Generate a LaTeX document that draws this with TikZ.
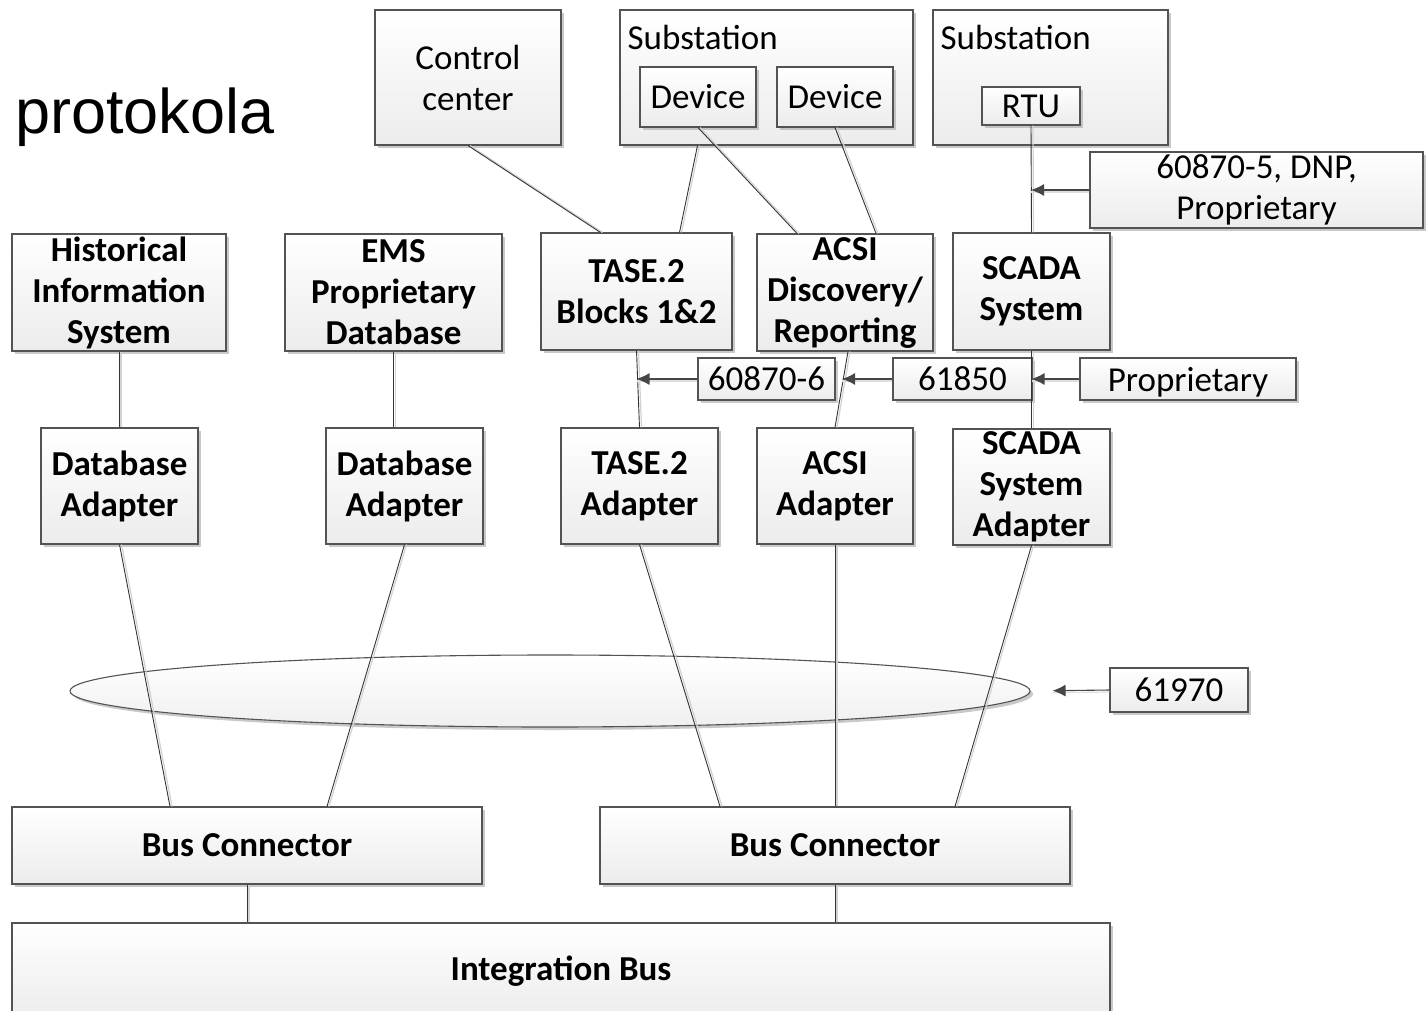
\documentclass[tikz,border=0pt]{standalone}
\usepackage{fontspec}
\setmainfont{Carlito}
\newfontfamily\headfont{Liberation Sans}
\usepackage{tikz}
\usetikzlibrary{arrows.meta,shapes.geometric,shadows}

\begin{document}
\begin{tikzpicture}[
  x=1pt, y=-1pt,
  box/.style={draw=gray!65!black, line width=1.1pt, top color=white, bottom color=gray!15,
    drop shadow={shadow xshift=3pt, shadow yshift=-3pt, fill=gray!60, opacity=0.7},
    inner sep=0pt, align=center, font=\fontsize{35}{41}\selectfont},
  bbox/.style={box, font=\fontsize{35}{41}\selectfont\bfseries},
  link/.style={draw=gray!40!black, line width=0.9pt,
    preaction={draw=gray!35, line width=1.2pt, transform canvas={xshift=2pt}}},
  arr/.style={draw=gray!55!black, line width=1.1pt, -{Latex[length=13pt, width=12pt]},
    preaction={draw=gray!25, line width=1.2pt, transform canvas={yshift=-2pt}, -{}}}
]
\useasboundingbox (0,0) rectangle (1427,1010);

% title
\node[anchor=base west, inner sep=0pt, font=\headfont\fontsize{63}{70}\selectfont] (title) at (15,133) {protokola};

% top row
\node[box, minimum width=186, minimum height=135] (cc) at (468,77.5) {Control\\center};
\node[box, minimum width=293, minimum height=135] (sub1) at (766.5,77.5) {};
\node[anchor=north west, inner sep=0pt, font=\fontsize{35}{41}\selectfont] (sub1lab) at ([xshift=8pt, yshift=-16pt]sub1.north west) {Substation};
\node[box, minimum width=116, minimum height=60] (dev1) at (698,97) {Device};
\node[box, minimum width=116, minimum height=60] (dev2) at (835,97) {Device};
\node[box, minimum width=235, minimum height=135] (sub2) at (1050.5,77.5) {};
\node[anchor=north west, inner sep=0pt, font=\fontsize{35}{41}\selectfont] (sub2lab) at ([xshift=8pt, yshift=-16pt]sub2.north west) {Substation};
\node[box, minimum width=98, minimum height=38] (rtu) at (1031,106) {RTU};
\node[box, minimum width=333, minimum height=76] (lab5) at (1256.5,190) {60870-5, DNP,\\Proprietary};

% systems
\node[bbox, minimum width=214, minimum height=117] (his) at (119,292.5) {Historical\\Information\\System};
\node[bbox, minimum width=217, minimum height=117] (ems) at (393.5,292.5) {EMS\\Proprietary\\Database};
\node[bbox, minimum width=191, minimum height=117] (tase) at (636.5,291.5) {TASE.2\\Blocks 1\&2};
\node[bbox, minimum width=176, minimum height=117] (acsi) at (845,292.5) {ACSI\\Discovery/\\Reporting};
\node[bbox, minimum width=157, minimum height=117] (scada) at (1031.5,291.5) {SCADA\\System};

% protocol labels
\node[box, minimum width=137, minimum height=42] (lab6) at (766.5,379) {60870-6};
\node[box, minimum width=139, minimum height=42] (lab61850) at (962.5,379) {61850};
\node[box, minimum width=216, minimum height=42, text depth=0pt] (labprop) at (1188,379) {Proprietary};

% adapters
\node[bbox, minimum width=157, minimum height=116] (dba1) at (119.5,486) {Database\\Adapter};
\node[bbox, minimum width=157, minimum height=116] (dba2) at (404.5,486) {Database\\Adapter};
\node[bbox, minimum width=157, minimum height=116] (tasea) at (639.5,486) {TASE.2\\Adapter};
\node[bbox, minimum width=156, minimum height=116] (acsia) at (835,486) {ACSI\\Adapter};
\node[bbox, minimum width=157, minimum height=116] (scadaa) at (1031.5,487) {SCADA\\System\\Adapter};

% common model
\node[ellipse, draw=gray!65!black, line width=1.1pt, top color=white, bottom color=gray!12,
  drop shadow={shadow xshift=3pt, shadow yshift=-3pt, fill=gray!60, opacity=0.7},
  minimum width=960, minimum height=72] (cim) at (550,691) {};
\node[box, minimum width=138, minimum height=44] (lab61970) at (1179,690) {61970};

% bus
\node[bbox, minimum width=470, minimum height=77] (bc1) at (247,845.5) {Bus Connector};
\node[bbox, minimum width=470, minimum height=77] (bc2) at (835,845.5) {Bus Connector};
\node[bbox, minimum width=1098, minimum height=96] (ib) at (561,971) {Integration Bus};

% links
\draw[link] (cc.south) -- ([xshift=-36pt]tase.north);
\draw[link] ([xshift=-69pt]sub1.south) -- ([xshift=43pt]tase.north);
\draw[link] (dev1.south) -- ([xshift=-48pt]acsi.north);
\draw[link] (dev2.south) -- ([xshift=31pt]acsi.north);
\draw[link] (rtu.south) -- (scada.north);
\draw[link] (his.south) -- (his.south |- dba1.north);
\draw[link] (ems.south) -- (ems.south |- dba2.north);
\draw[link] (tase.south) -- (tasea.north);
\draw[link] ([xshift=3pt]acsi.south) -- (acsia.north);
\draw[link] (scada.south) -- (scadaa.north);
\draw[link] (dba1.south) -- ([xshift=-77pt]bc1.north);
\draw[link] (dba2.south) -- ([xshift=80pt]bc1.north);
\draw[link] (tasea.south) -- ([xshift=-115pt]bc2.north);
\draw[link] (acsia.south) -- (bc2.north);
\draw[link] (scadaa.south) -- ([xshift=120pt]bc2.north);
\draw[link] (bc1.south) -- (bc1.south |- ib.north);
\draw[link] (bc2.south) -- (bc2.south |- ib.north);

% protocol arrows
\draw[arr] (lab5.west) -- (lab5.west -| rtu.south);
\draw[arr] (lab6.west) -- (lab6.west -| tase.south);
\draw[arr] (lab61850.west) -- ([xshift=-3pt]lab61850.west -| acsi.south);
\draw[arr] (labprop.west) -- (labprop.west -| scada.south);
\draw[arr, shorten >=22pt] (lab61970.west) -- (cim.east);
\end{tikzpicture}
\end{document}
